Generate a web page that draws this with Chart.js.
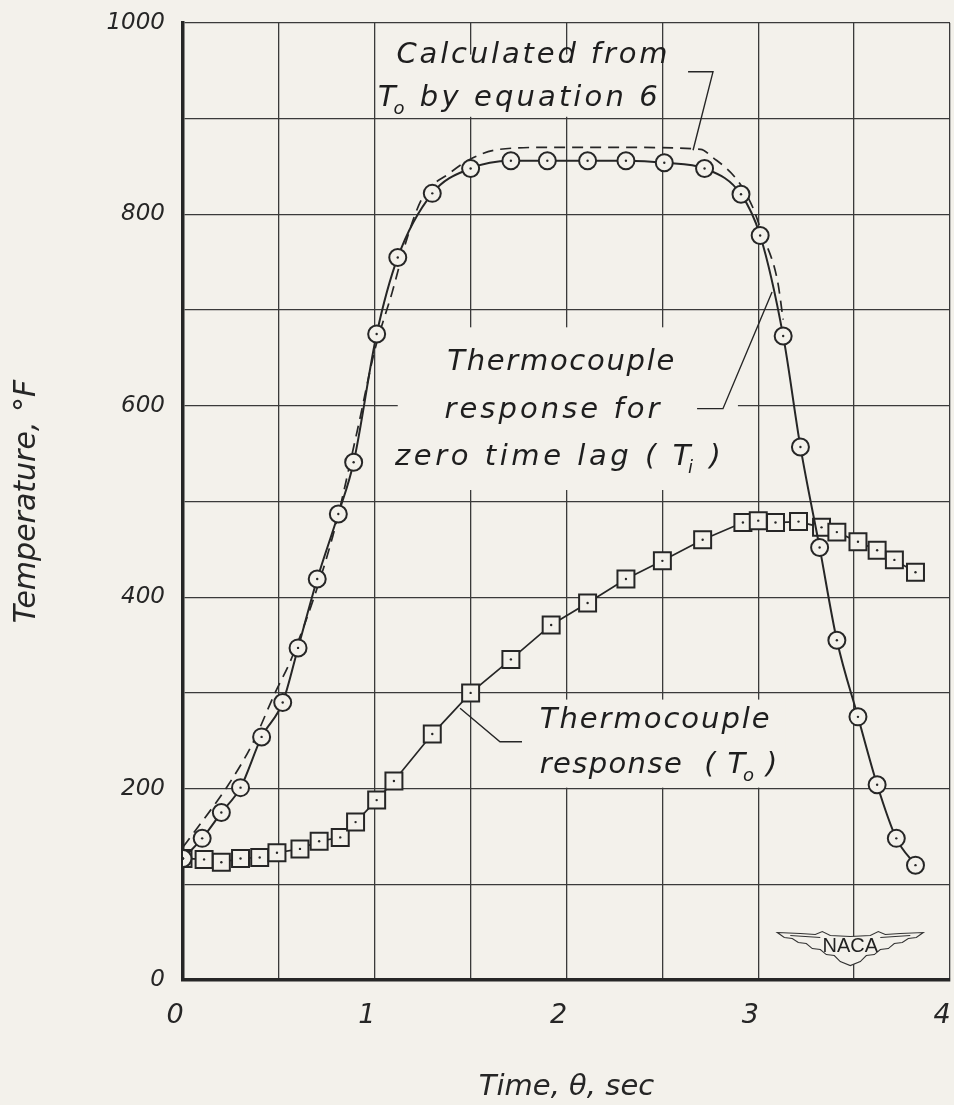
<!DOCTYPE html>
<html><head><meta charset="utf-8">
<script src="https://cdn.jsdelivr.net/npm/chart.js@4/dist/chart.umd.min.js"></script>
<style>html,body{margin:0;padding:0;background:#f3f1eb;overflow:hidden;}#wrap{width:954px;height:1105px;overflow:hidden;}canvas{display:block;}</style>
</head><body>
<div id="wrap"><canvas id="c" width="964" height="1105"></canvas></div>
<script>
// ---- data ----
const circleTime = [0,0.10,0.20,0.30,0.41,0.52,0.60,0.70,0.81,0.89,1.01,1.12,1.30,1.50,1.71,1.90,2.11,2.31,2.51,2.72,2.91,3.01,3.13,3.22,3.32,3.41,3.52,3.62,3.72,3.82];
const circleTemp = [127,148,175,201,254,290,347,419,487,541,675,755,822,848,856,856,856,856,854,848,821,778,673,557,452,355,275,204,148,120];
const squareTime = [0,0.11,0.20,0.30,0.40,0.49,0.61,0.71,0.82,0.90,1.01,1.10,1.30,1.50,1.71,1.92,2.11,2.31,2.50,2.71,2.92,3.00,3.09,3.21,3.33,3.41,3.52,3.62,3.71,3.82];
const squareTemp = [127,126,123,127,128,133,137,145,149,165,188,208,257,300,335,371,394,419,438,460,478,480,478,479,473,468,458,449,439,426];
const calcTime = [0,0.06,0.23,0.36,0.48,0.57,0.78,0.91,1.0,1.09,1.17,1.25,1.39,1.5,1.65,1.9,2.3,2.7,2.76,2.89,2.97,3.02,3.10,3.13];
const calcTemp = [139,155,202,246,300,338,463,575,658,718,776,818,843,858,868,870,870,868,860,836,808,780,731,690];
const xTickLabels = ['0','1','2','3','4'];
const yTickLabels = ['0','200','400','600','800','1000'];

const PAPER = '#f3f1eb';
const INK = '#262626';
const pts = (xs, ys) => xs.map((x, i) => ({x, y: ys[i]}));

// annotation texts, anchored in data units
const notes = [
  {segs:[['Calculated from']], x:1.82, y:958, align:'center', w:271},
  {segs:[['T'],['o',1],[' by equation 6']], x:1.017, y:913, align:'left', w:282},
  {segs:[['Thermocouple']], x:1.97, y:637, align:'center', w:227},
  {segs:[['response for']], x:1.924, y:587, align:'center', w:215},
  {segs:[['zero time lag ( T'],['i',1],[' )']], x:1.106, y:538, align:'left', w:328},
  {segs:[['Thermocouple']], x:2.46, y:263, align:'center', w:230},
  {segs:[['response  ( T'],['o',1],[' )']], x:1.86, y:216, align:'left', w:240}
];
const boxes = [
  [1.017,967,2.488,902],
  [1.12,682,2.894,512],
  [1.836,293,3.14,201]
];
const leaders = [
  [[2.634,949],[2.764,949],[2.66,867]],
  [[2.681,597],[2.816,597],[3.072,719]],
  [[1.445,284],[1.653,249],[1.768,249]]
];
const logoAt = [3.48, 36];

function drawRich(ctx, segs, x, y, align, targetW, fs) {
  const main = 'italic ' + fs + 'px "DejaVu Sans", sans-serif';
  const sub = 'italic ' + Math.round(fs*0.62) + 'px "DejaVu Sans", sans-serif';
  const chars = [];
  segs.forEach(s => { for (const ch of s[0]) chars.push({ch, sub: !!s[1]}); });
  let nat = 0, gaps = 0;
  chars.forEach((c, k) => { ctx.font = c.sub ? sub : main; c.w = ctx.measureText(c.ch).width; nat += c.w; if (k > 0 && !c.sub) gaps++; });
  const gap = gaps > 0 ? (targetW - nat) / gaps : 0;
  let cx = align === 'center' ? x - targetW/2 : x;
  ctx.textAlign = 'left'; ctx.textBaseline = 'alphabetic';
  chars.forEach((c, k) => {
    if (k > 0 && !c.sub) cx += gap;
    ctx.font = c.sub ? sub : main;
    ctx.fillText(c.ch, c.sub ? cx - fs*0.08 : cx, c.sub ? y + fs*0.26 : y);
    cx += c.sub ? c.w - fs*0.08 : c.w;
  });
}

const annot = {
  id: 'annot',
  beforeDraw(chart) {
    const c = chart.ctx; c.save(); c.fillStyle = PAPER; c.fillRect(0,0,chart.width,chart.height); c.restore();
  },
  beforeDatasetsDraw(chart) {
    const c = chart.ctx, X = chart.scales.x, Y = chart.scales.y;
    c.save(); c.fillStyle = PAPER;
    boxes.forEach(b => {
      const x1 = X.getPixelForValue(b[0]), y1 = Y.getPixelForValue(b[1]);
      const x2 = X.getPixelForValue(b[2]), y2 = Y.getPixelForValue(b[3]);
      c.fillRect(x1, y1, x2-x1, y2-y1);
    });
    c.restore();
  },
  afterDatasetsDraw(chart) {
    const c = chart.ctx, X = chart.scales.x, Y = chart.scales.y;
    c.save();
    c.fillStyle = INK;
    [1,2].forEach(i => chart.getDatasetMeta(i).data.forEach(p => { c.beginPath(); c.arc(p.x, p.y, 1.2, 0, Math.PI*2); c.fill(); }));
    c.strokeStyle = INK; c.lineWidth = 1.4;
    leaders.forEach(L => {
      c.beginPath();
      L.forEach((p, k) => { const px = X.getPixelForValue(p[0]), py = Y.getPixelForValue(p[1]); k ? c.lineTo(px,py) : c.moveTo(px,py); });
      c.stroke();
    });
    c.fillStyle = '#1e1e1e';
    notes.forEach(n => drawRich(c, n.segs, X.getPixelForValue(n.x), Y.getPixelForValue(n.y), n.align, n.w, 29));
    // NACA logo
    const lx = X.getPixelForValue(logoAt[0]), ly = Y.getPixelForValue(logoAt[1]);
    const top = [[-73,-13],[-50,-12],[-35,-11],[-28,-14],[-20,-10],[0,-9],[20,-10],[28,-14],[35,-11],[50,-12],[73,-13]];
    const bot = [[73,-13],[66,-8],[58,-7],[52,-3],[44,-2],[38,3],[30,4],[24,9],[16,10],[10,16],[0,20],[-10,16],[-16,10],[-24,9],[-30,4],[-38,3],[-44,-2],[-52,-3],[-58,-7],[-66,-8],[-73,-13]];
    c.beginPath();
    top.forEach((p,k)=>{ k ? c.lineTo(lx+p[0],ly+p[1]) : c.moveTo(lx+p[0],ly+p[1]); });
    bot.slice(1).forEach(p=>c.lineTo(lx+p[0],ly+p[1]));
    c.closePath();
    c.fillStyle = PAPER; c.fill();
    c.lineWidth = 1.1; c.strokeStyle = '#333'; c.stroke();
    c.beginPath(); c.moveTo(lx-60,ly-10); c.lineTo(lx-30,ly-8); c.moveTo(lx+60,ly-10); c.lineTo(lx+30,ly-8); c.stroke();
    c.fillStyle = '#222'; c.font = '20px "Liberation Sans", sans-serif'; c.textAlign = 'center'; c.textBaseline = 'middle';
    c.fillText('NACA', lx, ly + 1);
    c.restore();
  }
};

new Chart(document.getElementById('c'), {
  type: 'scatter',
  data: {datasets: [
    {label:'Calculated from To by equation 6', data: pts(calcTime, calcTemp), showLine:true, borderColor:INK, borderWidth:1.7, borderDash:[11,7], pointRadius:0, cubicInterpolationMode:'monotone', order:3},
    {label:'Thermocouple response (To)', data: pts(squareTime, squareTemp), showLine:true, borderColor:INK, borderWidth:1.7, pointStyle:'rect', pointRadius:12, pointBorderWidth:2, pointBorderColor:INK, pointBackgroundColor:PAPER, order:2},
    {label:'Thermocouple response for zero time lag (Ti)', data: pts(circleTime, circleTemp), showLine:true, borderColor:INK, borderWidth:2, pointStyle:'circle', pointRadius:8.5, pointBorderWidth:2, pointBorderColor:INK, pointBackgroundColor:PAPER, cubicInterpolationMode:'monotone', order:1}
  ]},
  options: {
    responsive:false, animation:false, events:[],
    layout:{padding:{top:23,right:0,left:0,bottom:0}},
    plugins:{legend:{display:false}, tooltip:{enabled:false}},
    scales:{
      x:{type:'linear', min:0, max:4,
        ticks:{stepSize:0.5, autoSkip:false, maxRotation:0, padding:20, labelOffset:-8, color:INK,
          font:{family:'"DejaVu Sans", sans-serif', style:'italic', size:27},
          callback:(v)=> Number.isInteger(v) ? xTickLabels[v] : ''},
        grid:{color:'#3a3a3a', lineWidth:1.3, drawTicks:false},
        border:{color:INK, width:3.5},
        title:{display:true, text:'Time, θ, sec', color:INK, padding:{top:8,bottom:0},
          font:{family:'"DejaVu Sans", sans-serif', style:'italic', size:29}},
        afterFit(s){ s.height = 125; s.paddingLeft = 0; s.paddingRight = 0; }
      },
      y:{min:0, max:1000,
        ticks:{stepSize:100, autoSkip:false, padding:18, color:INK,
          font:{family:'"DejaVu Sans", sans-serif', style:'italic', size:23},
          callback:(v)=> v % 200 === 0 ? yTickLabels[v/200] : ''},
        grid:{color:'#3a3a3a', lineWidth:1.3, drawTicks:false},
        border:{color:INK, width:3.5},
        title:{display:true, text:'Temperature, °F', color:INK, padding:{top:9,bottom:0},
          font:{family:'"DejaVu Sans", sans-serif', style:'italic', size:30}},
        afterFit(s){ s.width = 183; s.paddingTop = 0; s.paddingBottom = 0; }
      }
    }
  },
  plugins:[annot]
});
</script>
</body></html>
